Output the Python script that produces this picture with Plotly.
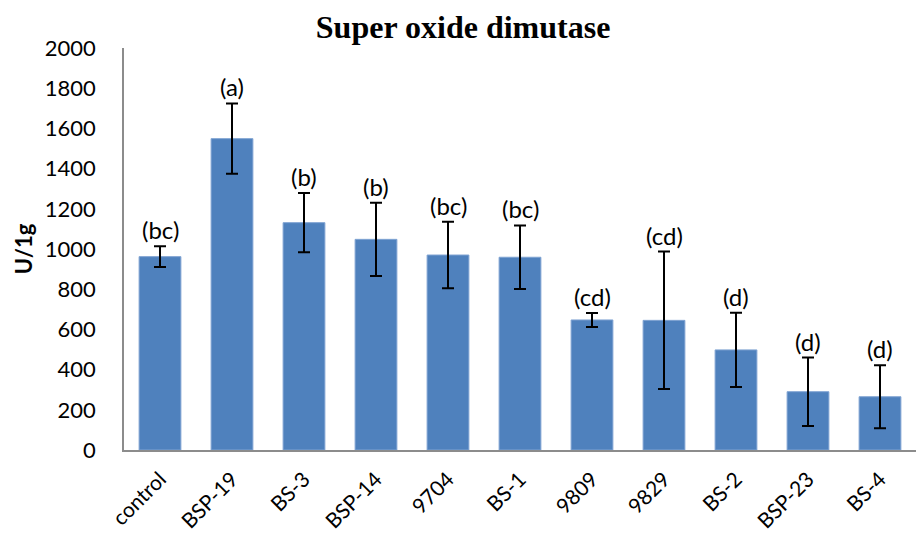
import plotly.graph_objects as go

# Superoxide dismutase activity per strain
strains = ["control", "BSP-19", "BS-3", "BSP-14", "9704", "BS-1",
           "9809", "9829", "BS-2", "BSP-23", "BS-4"]
sod_mean = [962, 1549, 1131, 1048, 970, 959, 647, 645, 498, 290, 265]
sod_err = [52, 175, 147, 182, 165, 158, 35, 342, 185, 170, 157]
groups = ["(bc)", "(a)", "(b)", "(b)", "(bc)", "(bc)",
          "(cd)", "(cd)", "(d)", "(d)", "(d)"]

BAR_BLUE = "#4F81BD"
AXIS_GREY = "#8C8C8C"
SANS = "Lato, Open Sans, sans-serif"

fig = go.Figure(
    go.Bar(
        x=strains,
        y=sod_mean,
        marker=dict(color=BAR_BLUE, line=dict(color="#7FA3D2", width=1)),
        error_y=dict(type="data", array=sod_err, visible=True,
                     color="black", thickness=2, width=6),
        width=0.58,
    )
)

# significance letters above each error bar (placed by category index,
# since names such as "9704" would otherwise be read as positions)
for i, (m, e, g) in enumerate(zip(sod_mean, sod_err, groups)):
    fig.add_annotation(
        x=i, y=m + e, text=g, showarrow=False,
        yanchor="bottom", yshift=0,
        font=dict(family=SANS, size=24, color="black"),
    )

fig.update_layout(
    width=917, height=538,
    margin=dict(l=124, r=1, t=48, b=88),
    paper_bgcolor="white", plot_bgcolor="white",
    showlegend=False,
    title=dict(
        text="<b>Super oxide dimutase</b>",
        x=0.505, xanchor="center", y=0.95, yanchor="middle",
        font=dict(family="Liberation Serif, Times New Roman, serif",
                  size=32, color="black"),
    ),
    xaxis=dict(
        type="category",
        range=[-0.5, len(strains) - 0.5],
        tickangle=-45,
        tickfont=dict(family=SANS, size=21, color="black"),
        showline=True, linecolor=AXIS_GREY, linewidth=1.5,
        ticks="", showgrid=False,
        ticklabelstandoff=7,
        automargin=False,
    ),
    yaxis=dict(
        range=[0, 2000],
        dtick=200,
        tickfont=dict(family=SANS, size=22, color="black"),
        showline=True, linecolor=AXIS_GREY, linewidth=1.5,
        ticks="", showgrid=False, zeroline=False,
        ticklabelstandoff=22,
        automargin=False,
        title=dict(text="<b>U/1g</b>", standoff=6,
                   font=dict(family=SANS, size=22, color="black")),
    ),
)

fig.write_html("out.html")
